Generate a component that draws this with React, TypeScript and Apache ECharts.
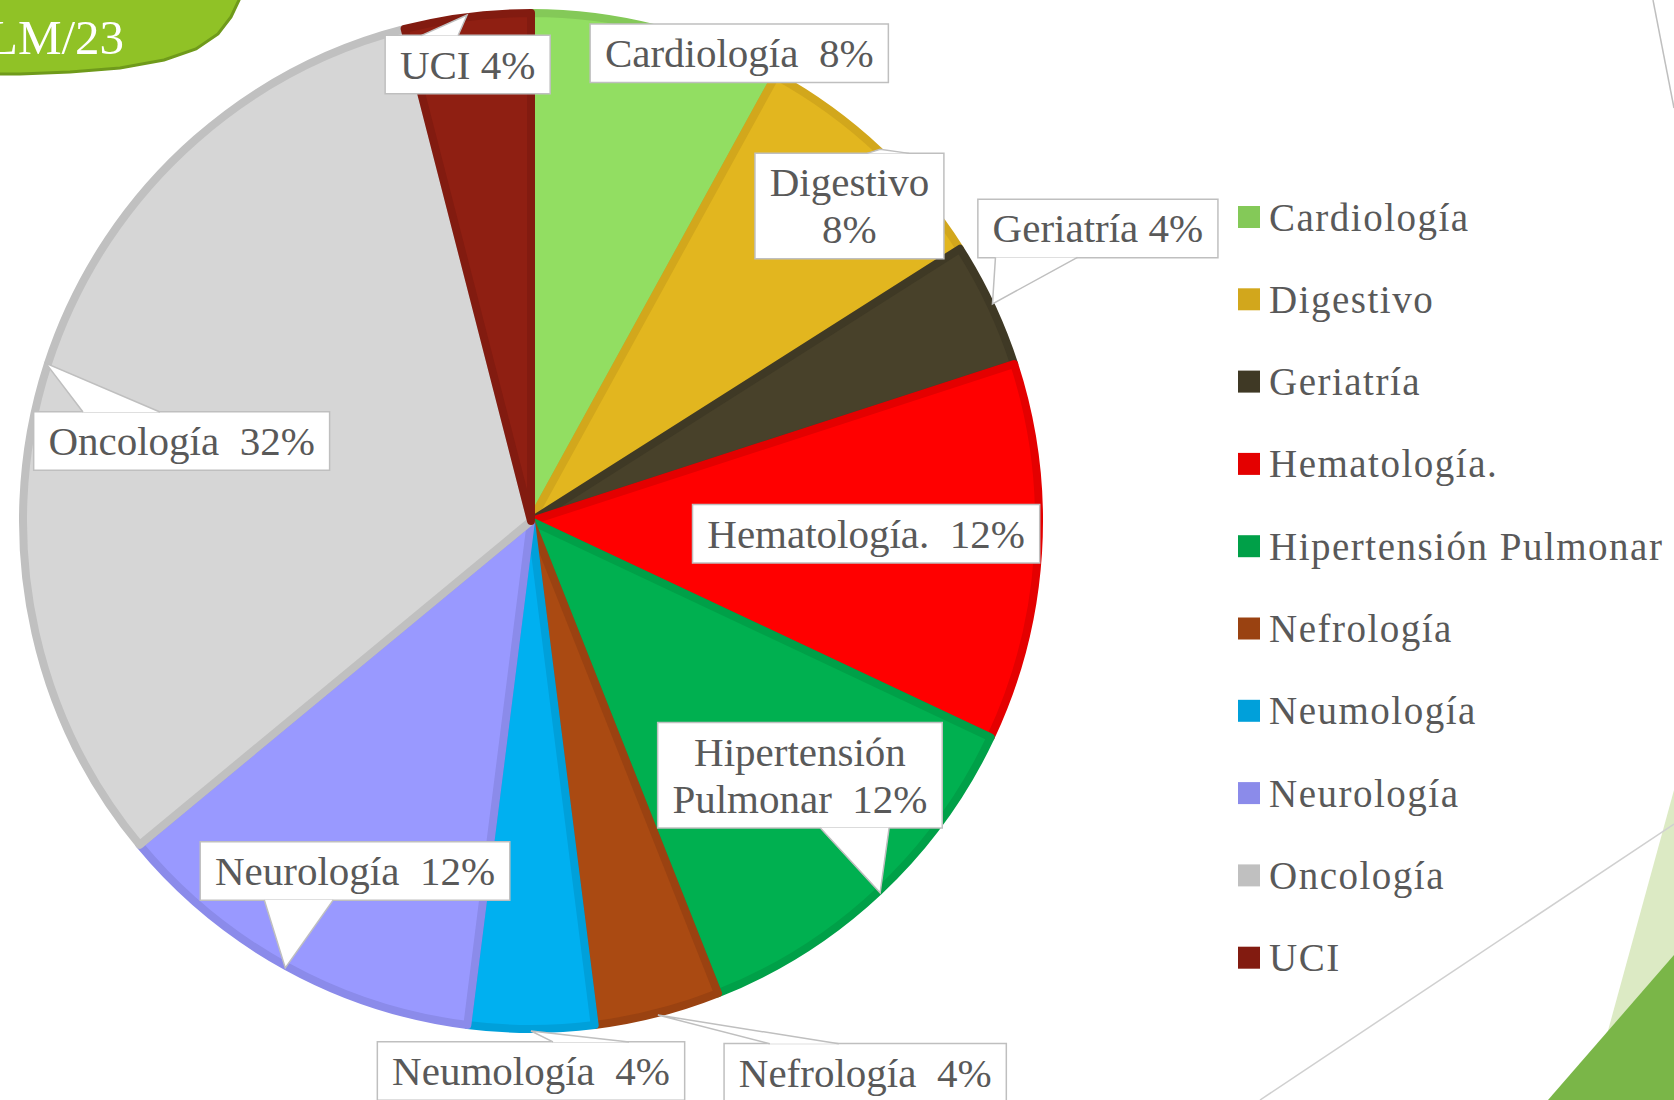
import React, { useEffect, useRef } from "react";
import * as echarts from "echarts";

const categories = [
  "Cardiología",
  "Digestivo",
  "Geriatría",
  "Hematología.",
  "Hipertensión Pulmonar",
  "Nefrología",
  "Neumología",
  "Neurología",
  "Oncología",
  "UCI",
];
const counts = [2, 2, 1, 3, 3, 1, 1, 3, 8, 1];

const fillColors = ["#92DE62", "#E2B61F", "#48412A", "#FF0000", "#00B050", "#AA4A12", "#00B0F0", "#9999FF", "#D6D6D6", "#8F1F12"];
const edgeColors = ["#84C958", "#D2A71C", "#3F3925", "#E40000", "#00A048", "#9A4211", "#00A0DA", "#8B8BEA", "#C0C0C0", "#821B10"];

// label placement style: radius fraction, angular shift (deg), callout base offsets, two-line text, separator
const labelRadius = [1.0, 0.875, 1.246, 0.655, 0.723, 1.26, 1.074, 0.765, 0.7, 0.9];
const labelShift = [9.6, 2.1, -2.1, -1.4, -3.4, -16.8, 0, -2.1, -5.1, -0.7];
const calloutBase: (number[] | null)[] = [null, [-13, 29], [3, 85], null, [-60, 9], [112, 181], [22, 98], [-21, 48], [37, 114], [-46, -9]];
const twoLine = [false, true, false, false, true, false, false, false, false, false];
const separators = ["  ", " ", " ", "  ", "  ", "  ", "  ", "  ", "  ", " "];

const CX = 531;
const CY = 521;
const R = 512;
const SERIF = "Liberation Serif, Times New Roman, serif";

export default function App() {
  const ref = useRef<HTMLDivElement>(null);
  useEffect(() => {
    if (!ref.current) return;
    const chart = echarts.init(ref.current, null, { renderer: "svg" });
    const total = counts.reduce((a, b) => a + b, 0);
    const starts: number[] = [];
    let acc = 0;
    counts.forEach((c) => {
      starts.push(acc);
      acc += c;
    });

    const decorations: any[] = [
      {
        type: "polygon",
        z: 0,
        shape: {
          points: [[-10, -10], [246, -10], [239, 0], [231, 17], [218, 34], [196, 49], [164, 60], [120, 68], [70, 72], [20, 74], [-10, 74]],
        },
        style: { fill: "#90C226", stroke: "#6F9A1B", lineWidth: 3 },
      },
      {
        type: "text",
        z: 1,
        x: -12,
        y: 13,
        style: { text: "LM/23", fill: "#FFFFFF", fontSize: 49, fontFamily: SERIF },
      },
      { type: "line", z: 0, shape: { x1: 1653, y1: 0, x2: 1674, y2: 108 }, style: { stroke: "#BFBFBF", lineWidth: 1.5 } },
      { type: "polygon", z: 0, shape: { points: [[1674, 790], [1674, 1100], [1589, 1100]] }, style: { fill: "#DCEAC4" } },
      { type: "polygon", z: 0, shape: { points: [[1674, 955], [1674, 1100], [1548, 1100]] }, style: { fill: "#7AB648" } },
      { type: "line", z: 0, shape: { x1: 1260, y1: 1100, x2: 1674, y2: 824 }, style: { stroke: "#D0D0D0", lineWidth: 1.5 } },
    ];

    const callouts: any[] = new Array(categories.length).fill(null);

    const option: any = {
      animation: false,
      backgroundColor: "#FFFFFF",
      graphic: decorations,
      legend: {
        orient: "vertical",
        left: 1233,
        top: 190,
        itemWidth: 22,
        itemHeight: 22,
        itemGap: 38.3,
        icon: "rect",
        data: categories.map((c, i) => ({ name: c, itemStyle: { color: edgeColors[i], borderWidth: 0 } })),
        textStyle: { fontFamily: SERIF, fontSize: 39, color: "#595959", lineHeight: 44, padding: [0, 0, 0, 4] },
      },
      series: [
        {
          type: "pie",
          center: [CX, CY],
          radius: R - 4,
          startAngle: 90,
          clockwise: true,
          avoidLabelOverlap: false,
          itemStyle: { borderWidth: 8 },
          label: {
            show: true,
            position: "outside",
            fontFamily: SERIF,
            fontSize: 41,
            lineHeight: 47,
            color: "#595959",
            backgroundColor: "#FFFFFF",
            borderColor: "#BFBFBF",
            borderWidth: 1.5,
            padding: [5, 14],
            align: "center",
            formatter: (p: any) => {
              const i = p.dataIndex;
              const pct = `${Math.round(p.percent)}%`;
              if (twoLine[i]) {
                const words = p.name.split(" ");
                if (words.length > 1) return `${words[0]}\n${words.slice(1).join(" ")}${separators[i]}${pct}`;
                return `${p.name}\n${pct}`;
              }
              return `${p.name}${separators[i]}${pct}`;
            },
          },
          labelLine: { show: false },
          labelLayout: (params: any) => {
            const i = params.dataIndex;
            const mid = ((starts[i] + counts[i] / 2) / total) * Math.PI * 2;
            const a = mid + (labelShift[i] * Math.PI) / 180;
            const bx = CX + labelRadius[i] * R * Math.sin(a);
            const by = CY - labelRadius[i] * R * Math.cos(a);
            const h = params.labelRect.height / 2;
            const tx = CX + (R - 2) * Math.sin(mid);
            const ty = CY - (R - 2) * Math.cos(mid);
            const base = calloutBase[i];
            if (base) {
              const ey = ty < by ? by - h + 1 : by + h - 1;
              callouts[i] = [[tx + base[0], ey], [tx, ty], [tx + base[1], ey]];
            } else {
              callouts[i] = null;
            }
            return { x: bx, y: by, align: "center", verticalAlign: "middle" };
          },
          data: categories.map((c, i) => ({
            name: c,
            value: counts[i],
            itemStyle: { color: fillColors[i], borderColor: edgeColors[i] },
          })),
        },
      ],
    };
    chart.setOption(option);

    const calloutGraphics: any[] = [];
    callouts.forEach((pts) => {
      if (!pts) return;
      calloutGraphics.push({ type: "polygon", z: 10, shape: { points: pts }, style: { fill: "#FFFFFF" } });
      calloutGraphics.push({ type: "polyline", z: 11, shape: { points: pts }, style: { stroke: "#BFBFBF", lineWidth: 1.5, fill: null } });
    });
    chart.setOption({ graphic: [...decorations, ...calloutGraphics] });

    return () => chart.dispose();
  }, []);
  return (
    <>
      <style>{`text[style*="39px"]{letter-spacing:1.5px}`}</style>
      <div ref={ref} style={{ position: "fixed", left: 0, top: 0, width: 1674, height: 1100 }} />
    </>
  );
}
